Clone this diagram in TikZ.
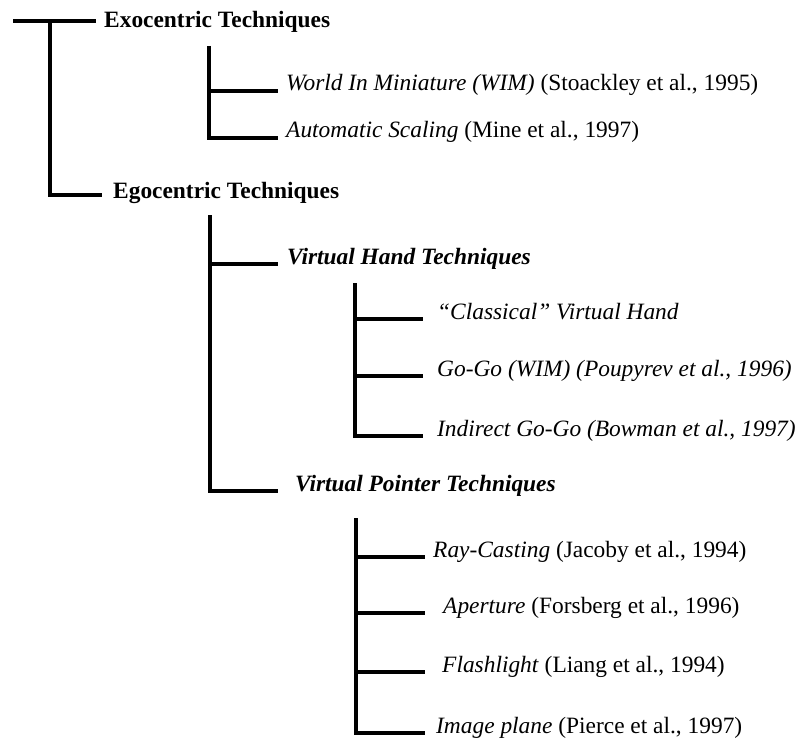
\documentclass[tikz,border=0pt]{standalone}
\usepackage{fontspec}
\setmainfont{Liberation Serif}
\begin{document}
\begin{tikzpicture}[x=1pt,y=-1pt,
	branch/.style={line width=3.6pt},
	lbl/.style={anchor=base west, inner sep=0pt, font=\fontsize{23.4}{28}\selectfont},
	head/.style={lbl, font=\fontsize{23.4}{28}\selectfont\bfseries},
	sub/.style={lbl, font=\fontsize{23.4}{28}\selectfont\bfseries\itshape}]
		\useasboundingbox (0,0) rectangle (800,741);
		% labels
		\node[head] (exo) at (104,28) {Exocentric Techniques};
		\node[head] (ego) at (113,198) {Egocentric Techniques};
		\node[lbl] (wim) at (286,91) {\textit{World In Miniature (WIM)} (Stoackley et al., 1995)};
		\node[lbl] (auto) at (286,138) {\textit{Automatic Scaling} (Mine et al., 1997)};
		\node[sub] (vh) at (287,264) {Virtual Hand Techniques};
		\node[sub] (vp) at (295,491) {Virtual Pointer Techniques};
		\node[lbl] (classic) at (437,319) {\textit{“Classical” Virtual Hand}};
		\node[lbl] (gogo) at (437,376) {\textit{Go-Go (WIM) (Poupyrev et al., 1996)}};
		\node[lbl] (indirect) at (437,436) {\textit{Indirect Go-Go (Bowman et al., 1997)}};
		\node[lbl] (ray) at (433,557) {\textit{Ray-Casting} (Jacoby et al., 1994)};
		\node[lbl] (aperture) at (443,613) {\textit{Aperture} (Forsberg et al., 1996)};
		\node[lbl] (flash) at (442,672) {\textit{Flashlight} (Liang et al., 1994)};
		\node[lbl] (image) at (436,733) {\textit{Image plane} (Pierce et al., 1997)};
		% spines
		\coordinate (root) at (13,21);
		\coordinate (s0) at (50,21);
		\coordinate (s1) at (209,46);
		\coordinate (s2) at (210,215);
		\coordinate (s3) at (355,283);
		\coordinate (s4) at (356,518);
		\draw[branch] (root) -- ([xshift=-8pt]root -| exo.west);
		\draw[branch] (s0) |- ([xshift=-11pt,yshift=3pt]ego.base west);
		\draw[branch] (s1) |- ([xshift=-8pt]auto.base west);
		\draw[branch] (s1 |- wim.base) -- ([xshift=-8pt]wim.base west);
		\draw[branch] (s2) |- ([xshift=-17pt]vp.base west);
		\draw[branch] (s2 |- vh.base) -- ([xshift=-9pt]vh.base west);
		\draw[branch] (s3) |- ([xshift=-14pt]indirect.base west);
		\draw[branch] (s3 |- classic.base) -- ([xshift=-14pt]classic.base west);
		\draw[branch] (s3 |- gogo.base) -- ([xshift=-14pt]gogo.base west);
		\draw[branch] (s4) |- ([xshift=-11pt]image.base west);
		\draw[branch] (s4 |- ray.base) -- ([xshift=-8pt]ray.base west);
		\draw[branch] (s4 |- aperture.base) -- ([xshift=-18pt]aperture.base west);
		\draw[branch] (s4 |- flash.base) -- ([xshift=-17pt]flash.base west);
\end{tikzpicture}
\end{document}
